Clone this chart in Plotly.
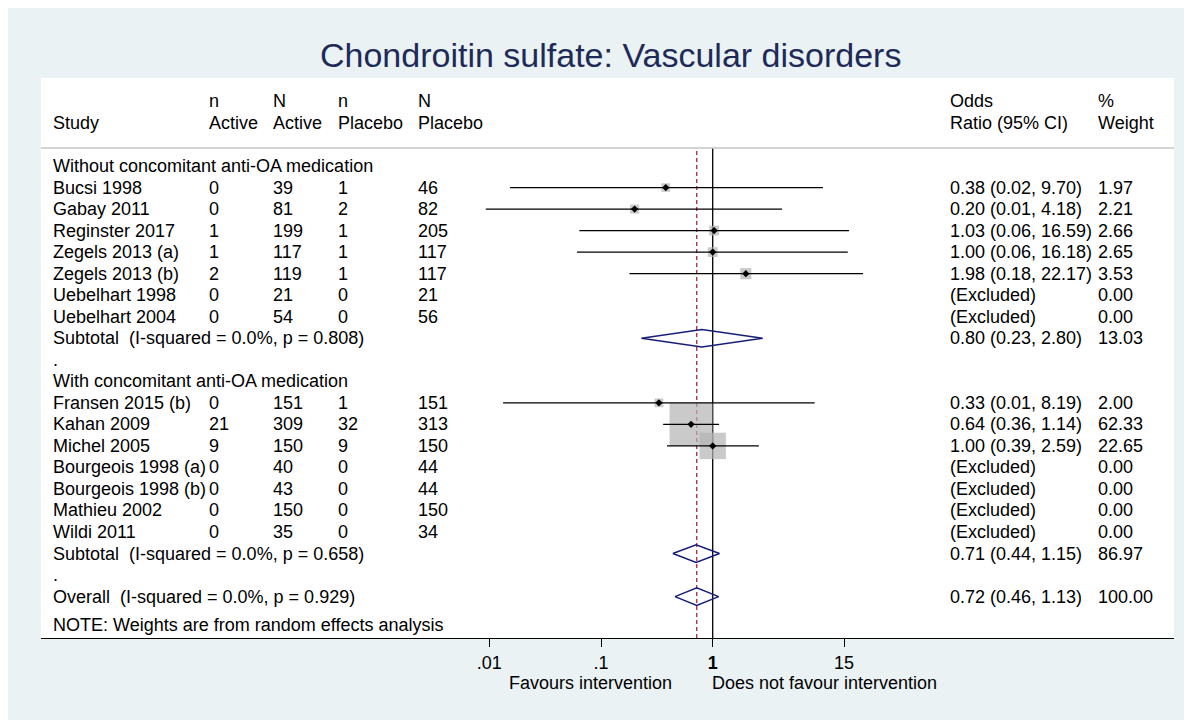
import plotly.graph_objects as go

# Forest plot: Chondroitin sulfate, vascular disorders (odds ratios, random effects)

# Table rows, top to bottom (None = empty cell)
row_labels = [
    "Without concomitant anti-OA medication",
    "Bucsi 1998", "Gabay 2011", "Reginster 2017", "Zegels 2013 (a)", "Zegels 2013 (b)",
    "Uebelhart 1998", "Uebelhart 2004",
    "Subtotal  (I-squared = 0.0%, p = 0.808)",
    ".",
    "With concomitant anti-OA medication",
    "Fransen 2015 (b)", "Kahan 2009", "Michel 2005", "Bourgeois 1998 (a)", "Bourgeois 1998 (b)",
    "Mathieu 2002", "Wildi 2011",
    "Subtotal  (I-squared = 0.0%, p = 0.658)",
    ".",
    "Overall  (I-squared = 0.0%, p = 0.929)",
]
row_kind = ["group"] + ["study"] * 7 + ["pooled", "blank", "group"] + ["study"] * 7 + ["pooled", "blank", "pooled"]

n_active = [None, 0, 0, 1, 1, 2, 0, 0, None, None, None, 0, 21, 9, 0, 0, 0, 0, None, None, None]
N_active = [None, 39, 81, 199, 117, 119, 21, 54, None, None, None, 151, 309, 150, 40, 43, 150, 35, None, None, None]
n_placebo = [None, 1, 2, 1, 1, 1, 0, 0, None, None, None, 1, 32, 9, 0, 0, 0, 0, None, None, None]
N_placebo = [None, 46, 82, 205, 117, 117, 21, 56, None, None, None, 151, 313, 150, 44, 44, 150, 34, None, None, None]

odds_ratio = [None, 0.38, 0.20, 1.03, 1.00, 1.98, None, None, 0.80, None, None,
              0.33, 0.64, 1.00, None, None, None, None, 0.71, None, 0.72]
ci_low = [None, 0.0153, 0.0093, 0.064, 0.061, 0.18, None, None, 0.23, None, None,
          0.0133, 0.36, 0.39, None, None, None, None, 0.44, None, 0.46]
ci_high = [None, 9.70, 4.18, 16.59, 16.18, 22.17, None, None, 2.80, None, None,
           8.19, 1.14, 2.59, None, None, None, None, 1.15, None, 1.13]
weight = [None, 1.97, 2.21, 2.66, 2.65, 3.53, 0.00, 0.00, 13.03, None, None,
          2.00, 62.33, 22.65, 0.00, 0.00, 0.00, 0.00, 86.97, None, 100.00]

header_top = ["", "n", "N", "n", "N", "Odds", "%"]
header_bottom = ["Study", "Active", "Active", "Placebo", "Placebo", "Ratio (95% CI)", "Weight"]

tick_vals = [0.01, 0.1, 1, 15]
tick_text = [".01", ".1", "<b>1</b>", "15"]

title = "Chondroitin sulfate: Vascular disorders"
note = "NOTE: Weights are from random effects analysis"
favours_left = "Favours intervention"
favours_right = "Does not favour intervention"

# ---- page geometry (pixels in the screenshot; the page body adds an 8px margin) ----
W, H = 1192, 720
OFF = 8
FONT = "Arial, Liberation Sans, sans-serif"
NAVY = "#161E78"
ROW0, ROW_STEP = 166, 21.53
PANEL_L, PANEL_R, PANEL_T, PANEL_B = 41, 1174, 78, 638
ONE_PX, DECADE = 712.7, 111.7
col_x = [52, 208, 272, 337, 417, 949, 1097]


def row_of(p):
    return (p - ROW0) / ROW_STEP


def pxx(p):
    return (p - OFF) / W


def pxy(p):
    return 1 - (p - OFF) / H


x_range = [(PANEL_L - ONE_PX) / DECADE, (PANEL_R - ONE_PX) / DECADE]
y_range = [row_of(PANEL_B), row_of(PANEL_T)]


def cell(v):
    return "" if v is None else str(v)


or_text = []
w_text = []
for i, k in enumerate(row_kind):
    if k in ("study", "pooled"):
        if odds_ratio[i] is None:
            or_text.append("(Excluded)")
        else:
            or_text.append(f"{odds_ratio[i]:.2f} ({ci_low[i]:.2f}, {ci_high[i]:.2f})")
        w_text.append(f"{weight[i]:.2f}")
    else:
        or_text.append("")
        w_text.append("")

columns = [row_labels, [cell(v) for v in n_active], [cell(v) for v in N_active],
           [cell(v) for v in n_placebo], [cell(v) for v in N_placebo], or_text, w_text]

fig = go.Figure()

# reference lines: no effect (1) and overall estimate
overall = odds_ratio[row_kind.index("pooled", 19)]
fig.add_trace(go.Scatter(x=[1, 1], y=[row_of(148), y_range[0]], mode="lines",
                         line=dict(color="black", width=1.3), hoverinfo="skip"))
fig.add_trace(go.Scatter(x=[overall, overall], y=[row_of(151), y_range[0]], mode="lines",
                         line=dict(color="#A8142C", width=1.2, dash="4px,3px"), hoverinfo="skip"))

# weight boxes
bx, by, bs = [], [], []
for i, k in enumerate(row_kind):
    if k == "study" and odds_ratio[i] is not None:
        bx.append(odds_ratio[i])
        by.append(i)
        bs.append(5.3 * weight[i] ** 0.5 + 1.2)
fig.add_trace(go.Scatter(x=bx, y=by, mode="markers",
                         marker=dict(symbol="square", size=bs, color="#B4B4B4", line=dict(width=0)),
                         hoverinfo="skip"))

# confidence intervals
lx, ly = [], []
for i, k in enumerate(row_kind):
    if k == "study" and odds_ratio[i] is not None:
        lx += [ci_low[i], ci_high[i], None]
        ly += [i, i, None]
fig.add_trace(go.Scatter(x=lx, y=ly, mode="lines", line=dict(color="black", width=1.3),
                         hoverinfo="skip"))

# point estimates
fig.add_trace(go.Scatter(x=bx, y=by, mode="markers",
                         marker=dict(symbol="diamond", size=5.6, color="black"),
                         hoverinfo="skip"))

# pooled diamonds
dx, dy = [], []
half = 0.41
for i, k in enumerate(row_kind):
    if k == "pooled":
        dx += [ci_low[i], odds_ratio[i], ci_high[i], odds_ratio[i], ci_low[i], None]
        dy += [i, i - half, i, i + half, i, None]
fig.add_trace(go.Scatter(x=dx, y=dy, mode="lines", line=dict(color=NAVY, width=1.5),
                         hoverinfo="skip"))

annotations = []
txt_font = dict(family=FONT, size=18, color="black")

# header
for c, x in enumerate(col_x):
    for text, y in ((header_top[c], -3), (header_bottom[c], -2)):
        if text:
            annotations.append(dict(x=pxx(x), y=y, xref="paper", yref="y", text=text,
                                    showarrow=False, xanchor="left", yanchor="middle",
                                    borderpad=0, font=txt_font))

# table body
for c, x in enumerate(col_x):
    for i, text in enumerate(columns[c]):
        if text:
            annotations.append(dict(x=pxx(x), y=i, xref="paper", yref="y",
                                    text=text.replace("  ", "\u00a0 "),
                                    showarrow=False, xanchor="left", yanchor="middle",
                                    borderpad=0, font=txt_font))

annotations.append(dict(x=pxx(col_x[0]), y=row_of(625), xref="paper", yref="y", text=note,
                        showarrow=False, xanchor="left", yanchor="middle", borderpad=0,
                        font=txt_font))

annotations.append(dict(x=pxx(610), y=pxy(55), xref="paper", yref="paper", text=title,
                        showarrow=False, xanchor="center", yanchor="middle",
                        font=dict(family=FONT, size=34, color="#1E2A58")))

annotations.append(dict(x=pxx(673), y=pxy(683), xref="paper", yref="paper", text=favours_left,
                        showarrow=False, xanchor="right", yanchor="middle", borderpad=0,
                        font=txt_font))
annotations.append(dict(x=pxx(711), y=pxy(683), xref="paper", yref="paper", text=favours_right,
                        showarrow=False, xanchor="left", yanchor="middle", borderpad=0,
                        font=txt_font))

shapes = [
    # header separator
    dict(type="line", xref="paper", yref="paper", x0=pxx(PANEL_L), x1=pxx(PANEL_R),
         y0=pxy(148), y1=pxy(148), line=dict(color="#C4C4C4", width=1.5)),
]

fig.update_layout(
    width=W,
    height=H,
    margin=dict(l=0, r=0, t=0, b=0),
    paper_bgcolor="#EAF2F3",
    plot_bgcolor="white",
    showlegend=False,
    font=dict(family=FONT, size=18, color="black"),
    xaxis=dict(
        type="log",
        domain=[pxx(PANEL_L), pxx(PANEL_R)],
        range=x_range,
        showgrid=False,
        zeroline=False,
        showline=True,
        linecolor="black",
        linewidth=1.3,
        ticks="outside",
        ticklen=8,
        tickwidth=1.3,
        tickcolor="black",
        tickvals=tick_vals,
        ticktext=tick_text,
        tickfont=dict(family=FONT, size=18, color="black"),
        fixedrange=True,
    ),
    yaxis=dict(
        domain=[pxy(PANEL_B), pxy(PANEL_T)],
        range=y_range,
        visible=False,
        fixedrange=True,
    ),
    annotations=annotations,
    shapes=shapes,
)

fig.write_html("out.html")
